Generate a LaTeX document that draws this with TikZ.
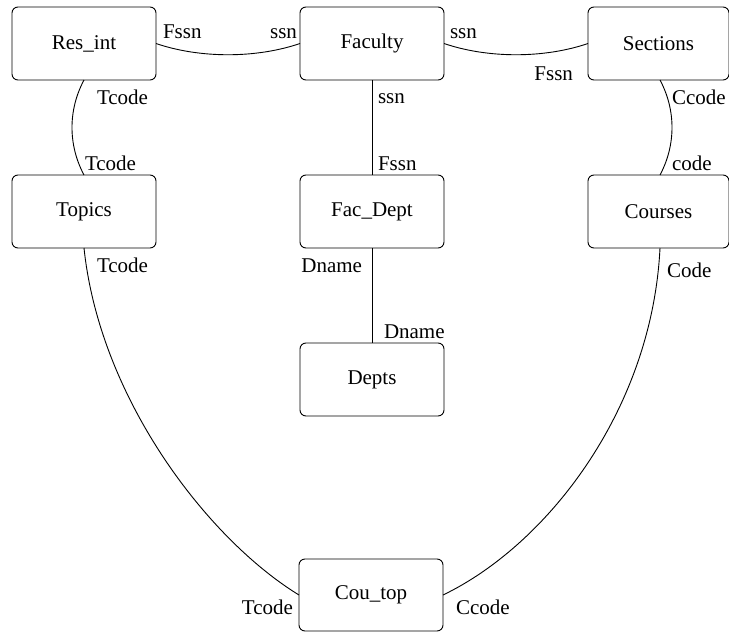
\documentclass[tikz,border=0pt]{standalone}
\usepackage{fontspec}
\setmainfont{Liberation Serif}
\begin{document}
\begin{tikzpicture}[x=1pt,y=-1pt,
  every node/.style={font=\fontsize{21}{25}\selectfont},
  entity/.style={draw,line width=0.9pt,rounded corners=6pt,minimum width=144pt,minimum height=73pt,inner sep=0pt,outer sep=0pt},
  link/.style={line width=0.9pt},
  lbl/.style={inner sep=0pt,outer sep=0pt}]
\useasboundingbox (0,0) rectangle (729,632);
% entities
\node[entity] (res) at (84,43.5) {Res\_int};
\node[entity] (fac) at (372,43.5) {Faculty};
\node[entity,minimum width=141pt] (sec) at (658.5,43.5) {Sections};
\node[entity] (top) at (84,211.5) {Topics};
\node[entity] (fd) at (372,211.5) {Fac\_Dept};
\node[entity,minimum width=141pt] (cou) at (658.5,211.5) {Courses};
\node[entity] (dep) at (372,379.5) {Depts};
\node[entity,minimum height=72pt] (ct) at (371,595) {Cou\_top};
% connectors
\draw[link] (res.east) .. controls +(44,15) and +(-44,15) .. (fac.west);
\draw[link] (fac.east) .. controls +(44,15) and +(-44,15) .. (sec.west);
\draw[link] (fac.south) -- (fd.north);
\draw[link] (fd.south) -- (dep.north);
\draw[link] (res.south) .. controls +(-16,30) and +(-16,-30) .. (top.north);
\draw[link] ([xshift=1.5pt]sec.south) .. controls +(16,30) and +(16,-30) .. ([xshift=1.5pt]cou.north);
\draw[link] (top.south) .. controls +(16,152) and +(-90,-55) .. (ct.west);
\draw[link] ([xshift=1.5pt]cou.south) .. controls +(-8,162) and +(104,-50) .. (ct.east);
% labels
\node[lbl,anchor=base west] (l1) at (163,38) {Fssn};
\node[lbl,anchor=base east] (l2) at (297,38) {ssn};
\node[lbl,anchor=base west] (l3) at (450,38) {ssn};
\node[lbl,anchor=base east] (l4) at (573,80) {Fssn};
\node[lbl,anchor=base west] (l5) at (97,104) {Tcode};
\node[lbl,anchor=base west] (l6) at (85,170) {Tcode};
\node[lbl,anchor=base west] (l7) at (672,104) {Ccode};
\node[lbl,anchor=base west] (l8) at (672,170) {code};
\node[lbl,anchor=base west] (l9) at (378,103) {ssn};
\node[lbl,anchor=base west] (l10) at (378,170) {Fssn};
\node[lbl,anchor=base east] (l11) at (362,272) {Dname};
\node[lbl,anchor=base west] (l12) at (384,338) {Dname};
\node[lbl,anchor=base west] (l13) at (97,272) {Tcode};
\node[lbl,anchor=base west] (l14) at (667,277) {Code};
\node[lbl,anchor=base east] (l15) at (293,614) {Tcode};
\node[lbl,anchor=base west] (l16) at (456,614) {Ccode};
\end{tikzpicture}
\end{document}
